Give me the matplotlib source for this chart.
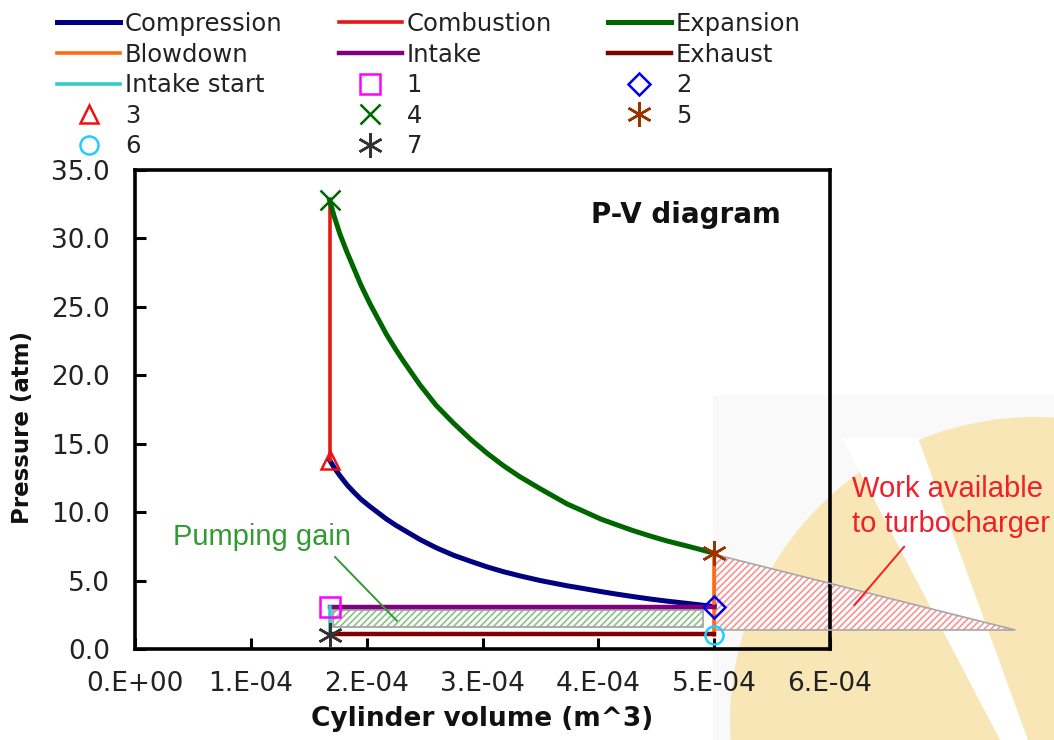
import numpy as np
import matplotlib
matplotlib.use('Agg')
import matplotlib.pyplot as plt
from matplotlib.patches import Polygon, Rectangle, Ellipse
from matplotlib.ticker import FixedLocator, FuncFormatter

plt.rcParams['font.family'] = ['DejaVu Sans']
plt.rcParams['hatch.linewidth'] = 1.3

# Данные: объём (м^3), давление (атм)
comp_v = np.array([1.68, 1.72, 1.77, 1.83, 1.885, 1.95, 2.03, 2.1, 2.17, 2.25, 2.32, 2.46, 2.6, 2.75,
                   2.9, 3.04, 3.18, 3.32, 3.5, 3.73, 3.85, 4.02, 4.15, 4.30, 4.45, 4.59, 4.8, 5.0]) * 1e-4
comp_p = [13.8, 13.25, 12.65, 12.0, 11.5, 10.95, 10.4, 9.95, 9.5, 9.05, 8.7, 8.0, 7.4, 6.85,
          6.4, 6.0, 5.65, 5.35, 5.0, 4.62, 4.45, 4.2, 4.02, 3.83, 3.65, 3.5, 3.3, 3.1]
exp_v = np.array([1.68, 1.72, 1.77, 1.83, 1.885, 1.95, 2.03, 2.1, 2.17, 2.25, 2.32, 2.46, 2.6, 2.75,
                  2.9, 3.04, 3.18, 3.32, 3.5, 3.73, 3.85, 4.02, 4.15, 4.30, 4.45, 4.59, 4.8, 5.0]) * 1e-4
exp_p = [32.8, 31.6, 30.3, 29.0, 27.9, 26.6, 25.2, 24.1, 23.0, 21.9, 21.0, 19.3, 17.8, 16.5,
         15.3, 14.3, 13.4, 12.6, 11.7, 10.6, 10.15, 9.5, 9.1, 8.65, 8.25, 7.9, 7.45, 7.0]

comb_v = [1.68e-4, 1.68e-4]
comb_p = [13.8, 32.8]
blow_v = [5.0e-4, 5.0e-4]
blow_p = [7.0, 1.0]
intake_v = [1.68e-4, 5.0e-4]
intake_p = [3.1, 3.1]
exhaust_v = [1.68e-4, 5.0e-4]
exhaust_p = [1.1, 1.1]
istart_v = [1.68e-4, 1.68e-4]
istart_p = [1.0, 3.1]

# точки цикла 1..7
pt_names = ['1', '2', '3', '4', '5', '6', '7']
pt_v = [1.68e-4, 5.0e-4, 1.68e-4, 1.68e-4, 5.0e-4, 5.0e-4, 1.68e-4]
pt_p = [3.1, 3.1, 13.8, 32.8, 7.0, 1.0, 1.0]

# заштрихованные области
pump_v = [1.71e-4, 4.90e-4]
pump_p = [1.63, 2.85]
turbo_v = [5.01e-4, 7.6e-4, 5.01e-4]
turbo_p = [6.9, 1.39, 1.39]

x_ticks = [0, 1e-4, 2e-4, 3e-4, 4e-4, 5e-4, 6e-4]
y_ticks = [0, 5, 10, 15, 20, 25, 30, 35]

fig = plt.figure(figsize=(10.54, 7.40), dpi=100)

# водяной знак на фоне
fig.patches.append(Rectangle((7.13, 0), 3.5, 3.45, transform=fig.dpi_scale_trans,
                             facecolor='#f9f9f9', edgecolor='none', zorder=-5))
fig.patches.append(Ellipse((10.35, 0.18), 6.1, 6.1, transform=fig.dpi_scale_trans,
                           facecolor='#f8e6b6', edgecolor='none', zorder=-4))
fig.patches.append(Polygon([(8.42, 3.02), (9.18, 3.02), (10.28, 0.0), (10.0, 0.0)],
                           transform=fig.dpi_scale_trans, facecolor='white',
                           edgecolor='none', zorder=-3))

ax = fig.add_axes([135 / 1054, 1 - 649 / 740, 695 / 1054, 479 / 740])
ax.set_facecolor('none')

ax.plot(comp_v, comp_p, color='#000080', lw=3.6, label='Compression', zorder=4)
ax.plot(comb_v, comb_p, color='#e81515', lw=2.6, label='Combustion', zorder=4)
ax.plot(exp_v, exp_p, color='#006600', lw=3.6, label='Expansion', zorder=4)
ax.plot(blow_v, blow_p, color='#ff6a10', lw=2.6, label='Blowdown', zorder=4)
ax.plot(intake_v, intake_p, color='#800080', lw=3.2, label='Intake', zorder=4)
ax.plot(exhaust_v, exhaust_p, color='#800000', lw=3.2, label='Exhaust', zorder=4)
ax.plot(istart_v, istart_p, color='#33cccc', lw=2.6, label='Intake start', zorder=4)

mk = dict(ls='none', mfc='none', mew=1.8, zorder=6, clip_on=False)
ax.plot(pt_v[0], pt_p[0], marker='s', ms=14, mec='#ff00ff', label=pt_names[0], **mk)
ax.plot(pt_v[1], pt_p[1], marker='D', ms=11.5, mec='#0000ee', label=pt_names[1], **mk)
ax.plot(pt_v[2], pt_p[2], marker='^', ms=13, mec='#ee1111', label=pt_names[2], **mk)
ax.plot(pt_v[3], pt_p[3], marker='x', ms=15, mec='#006600', label=pt_names[3], **mk)
ax.plot(pt_v[4], pt_p[4], marker=(6, 2, 0), ms=18, mec='#993300', label=pt_names[4], **mk)
ax.plot(pt_v[5], pt_p[5], marker='o', ms=13, mec='#22ccff', label=pt_names[5], **mk)
ax.plot(pt_v[6], pt_p[6], marker=(6, 2, 0), ms=18, mec='#333333', label=pt_names[6], **mk)

# Pumping gain
ax.add_patch(Rectangle((pump_v[0], pump_p[0]), pump_v[1] - pump_v[0], pump_p[1] - pump_p[0],
                       facecolor='white', edgecolor='#8fc48f', lw=0, hatch='/////', zorder=2))
ax.add_patch(Rectangle((pump_v[0], pump_p[0]), pump_v[1] - pump_v[0], pump_p[1] - pump_p[0],
                       fill=False, edgecolor='#a0a0a0', lw=1.2, zorder=3))
# Work available to turbocharger
tri = list(zip(turbo_v, turbo_p))
ax.add_patch(Polygon(tri, facecolor='white', edgecolor='#f49a9a', lw=0, hatch='/////',
                     zorder=2, clip_on=False))
ax.add_patch(Polygon(tri, fill=False, edgecolor='#a8a8a8', lw=1.2, zorder=3, clip_on=False))

ax.text(0.326e-4, 7.6, 'Pumping gain', color='#339933', fontsize=21,
        family='Liberation Sans', va='baseline')
ax.plot([1.727e-4, 2.26e-4], [6.72, 2.07], color='#339933', lw=1.4, zorder=5)
ax.text(6.19e-4, 11.1, 'Work available', color='#f0202a', fontsize=21,
        family='Liberation Sans', va='baseline', clip_on=False)
ax.text(6.19e-4, 8.55, 'to turbocharger', color='#f0202a', fontsize=21,
        family='Liberation Sans', va='baseline', clip_on=False)
ax.plot([6.64e-4, 6.21e-4], [7.47, 3.21], color='#f0202a', lw=1.4, zorder=5, clip_on=False)

ax.text(0.793, 0.906, 'P-V diagram', transform=ax.transAxes, ha='center', va='center',
        fontsize=20, fontweight='bold', color='#111111')

ax.set_xlim(0, 6e-4)
ax.set_ylim(0, 35)
ax.xaxis.set_major_locator(FixedLocator(x_ticks))
ax.yaxis.set_major_locator(FixedLocator(y_ticks))
ax.xaxis.set_major_formatter(FuncFormatter(lambda v, pos: '{:#.0E}'.format(v)))
ax.yaxis.set_major_formatter(FuncFormatter(lambda v, pos: '{:.1f}'.format(v)))
ax.tick_params(direction='in', length=8, width=2.2, labelsize=19, labelcolor='#222222')
ax.tick_params(axis='x', pad=16)
ax.tick_params(axis='y', pad=18)
for s in ax.spines.values():
    s.set_linewidth(2.6)

ax.set_xlabel('Cylinder volume (m^3)', fontsize=19, fontweight='bold', color='#111111', labelpad=6)
ax.set_ylabel('Pressure (atm)', fontsize=16.5, fontweight='bold', color='#111111')
ax.yaxis.set_label_coords(-0.146, 0.463)

# легенда: 3 колонки, порядок по столбцам
h, l = ax.get_legend_handles_labels()
d = dict(zip(l, h))
order = ['Compression', 'Blowdown', 'Intake start', '3', '6',
         'Combustion', 'Intake', '1', '4', '7',
         'Expansion', 'Exhaust', '2', '5']
leg = fig.legend([d[k] for k in order], order, ncol=3, loc='upper left',
                 bbox_to_anchor=(57 / 1054, 1 - 12 / 740), frameon=False, fontsize=17.5,
                 borderpad=0, borderaxespad=0, handlelength=2.6, handletextpad=0.2,
                 columnspacing=2.3, labelspacing=0.27, numpoints=1)
for t in leg.get_texts():
    t.set_color('#222222')

fig.savefig('out.png', dpi=100)
